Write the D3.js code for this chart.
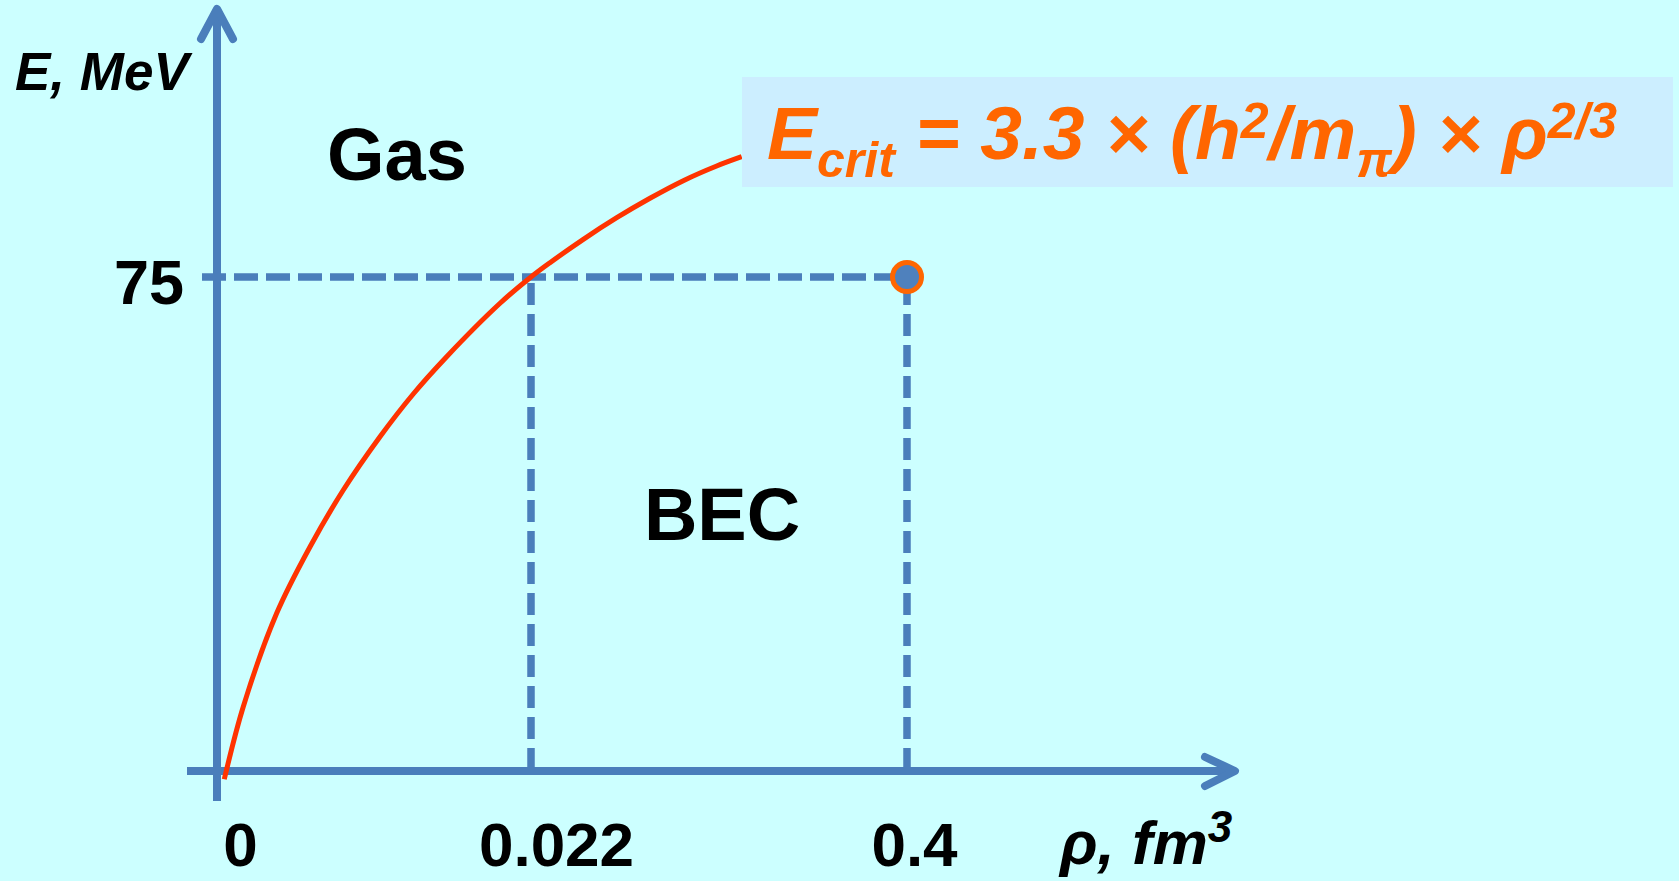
<!DOCTYPE html>
<html>
<head>
<meta charset="utf-8">
<script src="https://cdn.jsdelivr.net/npm/d3@7"></script>
<style>
  html, body { margin: 0; padding: 0; background: #ccffff; }
  svg { display: block; }
  text { font-family: "Liberation Sans", Arial, sans-serif; font-weight: bold; }
</style>
</head>
<body>
<svg id="chart" width="1679" height="881"></svg>
<script>
// ---- data ----
const xTickValues = [0, 0.022, 0.4];
const xTickLabels = ["0", "0.022", "0.4"];
const yTickValues = [75];
const yTickLabels = ["75"];
// critical curve E_crit(rho), schematic
const curveRho = [0.00051, 0.00184, 0.00418, 0.00652, 0.00885, 0.01142, 0.01375, 0.01609,
                  0.01983, 0.022, 0.0411, 0.0746, 0.1082, 0.1416, 0.1751, 0.2087, 0.2338];
const curveE   = [-1.26, 9.76, 23.94, 34.05, 42.66, 50.75, 57.24, 62.90,
                  71.01, 75.0, 77.17, 80.72, 84.00, 86.95, 89.62, 91.85, 93.26];
// marked point
const markRho = [0.4];
const markE = [75];
const regionNames = ["Gas", "BEC"];
const xTitle = "ρ, fm";
const xTitleSup = "3";
const yTitle = "E, MeV";

// ---- layout ----
const svg = d3.select("#chart");
const x = d3.scaleLinear().domain(xTickValues).range([217, 531, 907]);
const y = d3.scaleLinear().domain([0, 75]).range([771, 277]);

const blue = "#4a7ebb";
const orange = "#ff6600";
const red = "#ff3300";

// dashed guides
const guides = svg.append("g").attr("stroke", blue).attr("stroke-width", 7.5).attr("fill", "none");
guides.append("line")
  .attr("x1", x(0) - 15).attr("x2", x(markRho[0])).attr("y1", y(markE[0])).attr("y2", y(markE[0]))
  .attr("stroke-dasharray", "24,8");
[xTickValues[1], xTickValues[2]].forEach(v => {
  guides.append("line")
    .attr("x1", x(v)).attr("x2", x(v)).attr("y1", y(markE[0]) + 6).attr("y2", y(0))
    .attr("stroke-dasharray", "22,9");
});

// axes
const axes = svg.append("g").attr("stroke", blue).attr("stroke-width", 8).attr("fill", "none")
  .attr("stroke-linecap", "round").attr("stroke-linejoin", "round");
axes.append("line").attr("x1", x(0)).attr("x2", x(0)).attr("y1", 801).attr("y2", 9).attr("stroke-linecap", "butt");
axes.append("polyline").attr("points", `${x(0)-16},39 ${x(0)},9 ${x(0)+16},39`);
axes.append("line").attr("x1", 187).attr("x2", 1234).attr("y1", y(0)).attr("y2", y(0)).attr("stroke-linecap", "butt");
axes.append("polyline").attr("points", `1205,757 1235,${y(0)} 1205,786`);

// x tick labels through d3 axis
const xAxis = d3.axisBottom(x).tickValues(xTickValues)
  .tickFormat((d, i) => xTickLabels[i]).tickSize(0).tickPadding(0);
const gx = svg.append("g").attr("transform", `translate(0,${866})`).call(xAxis);
gx.select(".domain").remove();
const xLabelShift = [23, 25, 7];
gx.selectAll(".tick text")
  .attr("dy", 0).attr("y", 0)
  .attr("dx", (d, i) => xLabelShift[i])
  .attr("fill", "#000").attr("font-size", 62)
  .attr("font-family", '"Liberation Sans", Arial, sans-serif').attr("font-weight", "bold");

// y tick labels through d3 axis
const yAxis = d3.axisLeft(y).tickValues(yTickValues)
  .tickFormat((d, i) => yTickLabels[i]).tickSize(0).tickPadding(0);
const gy = svg.append("g").attr("transform", "translate(184,0)").call(yAxis);
gy.select(".domain").remove();
gy.selectAll(".tick text")
  .attr("dy", 26).attr("x", 0)
  .attr("fill", "#000").attr("font-size", 63)
  .attr("font-family", '"Liberation Sans", Arial, sans-serif').attr("font-weight", "bold");

// axis titles
svg.append("text").attr("x", 15).attr("y", 90).attr("font-size", 53).attr("font-style", "italic")
  .attr("fill", "#000").text(yTitle);
const xt = svg.append("text").attr("x", 1060).attr("y", 864).attr("font-size", 62).attr("font-style", "italic")
  .attr("fill", "#000");
xt.append("tspan").text(xTitle);
xt.append("tspan").attr("y", 842).attr("font-size", 44).text(xTitleSup);

// critical curve
const pts = curveRho.map((r, i) => [r, curveE[i]]);
svg.append("path").datum(pts)
  .attr("d", d3.line().x(d => x(d[0])).y(d => y(d[1])).curve(d3.curveCatmullRom.alpha(0.5)))
  .attr("fill", "none").attr("stroke", red).attr("stroke-width", 5);

// region labels
svg.append("text").attr("x", 397).attr("y", 180).attr("text-anchor", "middle")
  .attr("font-size", 74).attr("fill", "#000").text(regionNames[0]);
svg.append("text").attr("x", 722).attr("y", 540).attr("text-anchor", "middle")
  .attr("font-size", 74).attr("fill", "#000").text(regionNames[1]);

// formula box
svg.append("rect").attr("x", 742).attr("y", 77).attr("width", 931).attr("height", 110).attr("fill", "#cceeff");
const f = svg.append("text").attr("x", 767).attr("y", 159).attr("fill", orange)
  .attr("font-style", "italic").attr("font-size", 75).style("white-space", "pre");
f.append("tspan").text("E");
f.append("tspan").attr("y", 177).attr("font-size", 50).text("crit");
f.append("tspan").attr("y", 159).text(" = 3.3 × (h");
f.append("tspan").attr("y", 138).attr("font-size", 50).text("2");
f.append("tspan").attr("y", 159).text("/m");
f.append("tspan").attr("y", 177).attr("font-size", 50).text("π");
f.append("tspan").attr("y", 159).text(") × ρ");
f.append("tspan").attr("y", 138).attr("font-size", 50).text("2/3");

// marked point
svg.append("g").selectAll("circle").data(markRho).join("circle")
  .attr("cx", d => x(d)).attr("cy", (d, i) => y(markE[i])).attr("r", 14.5)
  .attr("fill", "#4f81bd").attr("stroke", orange).attr("stroke-width", 5);
</script>
</body>
</html>
